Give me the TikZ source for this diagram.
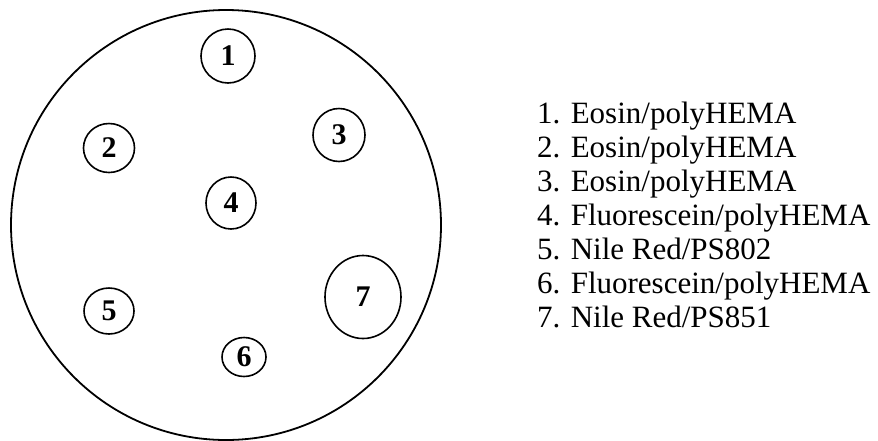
\documentclass[tikz,border=0pt]{standalone}
\usepackage{fontspec}
\setmainfont{Liberation Serif}
\usetikzlibrary{shapes.geometric}

\begin{document}
\begin{tikzpicture}[x=1pt, y=-1pt,
        spot/.style={draw, ellipse, line width=1.6pt, inner sep=0pt,
                     font=\fontsize{30}{30}\selectfont\bfseries},
        entry/.style={anchor=base west, inner sep=0pt,
                      font=\fontsize{31}{34}\selectfont}]
      \useasboundingbox (0,0) rectangle (878,440);
      \node[draw, circle, line width=1.8pt, minimum size=430pt] (plate) at (226,225) {};
      \node[spot, minimum width=54pt, minimum height=54pt] (s1) at (228,56)  {1};
      \node[spot, minimum width=51pt, minimum height=49pt] (s2) at (109,148) {2};
      \node[spot, minimum width=52pt, minimum height=53pt] (s3) at (339,135) {3};
      \node[spot, minimum width=50pt, minimum height=52pt] (s4) at (231,203) {4};
      \node[spot, minimum width=50pt, minimum height=46pt] (s5) at (109,311) {5};
      \node[spot, minimum width=44pt, minimum height=39pt] (s6) at (244,357) {6};
      \node[spot, minimum width=76pt, minimum height=83pt] (s7) at (363,297) {7};
      % legend
      \node[entry] (l1) at (537,123.5) {1. Eosin/polyHEMA};
      \node[entry] (l2) at (537,157.5) {2. Eosin/polyHEMA};
      \node[entry] (l3) at (537,191.5) {3. Eosin/polyHEMA};
      \node[entry] (l4) at (537,225.5) {4. Fluorescein/polyHEMA};
      \node[entry] (l5) at (537,259.5) {5. Nile Red/PS802};
      \node[entry] (l6) at (537,293.5) {6. Fluorescein/polyHEMA};
      \node[entry] (l7) at (537,327.5) {7. Nile Red/PS851};
    \end{tikzpicture}
\end{document}
